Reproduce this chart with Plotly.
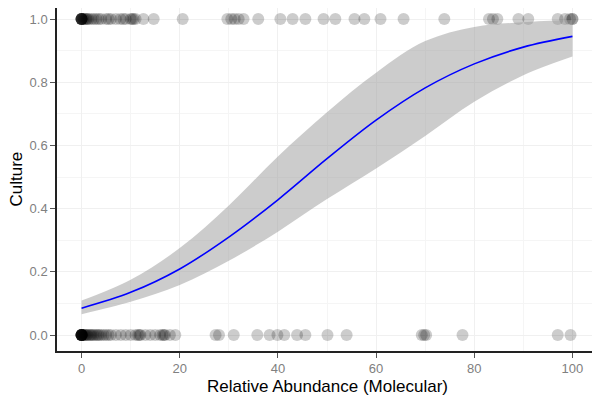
import plotly.graph_objects as go

# Observations with Culture = 1
x_pos = [0, 0, 0, 0, 0, 0, 0, 0, 0.3, 0.5, 0.8, 1, 1.2, 1.5, 2, 2.5, 3, 3.5, 4, 5, 5.5,
         6, 7, 7.9, 8.5, 9, 10, 10.3, 10.6, 11, 12.6, 14.7, 20.6, 29.7, 30.5, 31.2, 32,
         33, 36, 40.5, 43, 45.6, 49.3, 51.7, 55.6, 57.6, 60.9, 65.6, 73.9, 83, 83.8,
         84.7, 89, 91, 97, 98.5, 99.5, 100, 100]
# Observations with Culture = 0
x_neg = [0, 0, 0, 0, 0, 0, 0, 0, 0, 0, 0, 0, 0.2, 0.4, 0.6, 0.8, 1, 1.2, 1.5, 1.8, 2,
         2.3, 2.6, 3, 3.3, 3.6, 4, 4.5, 5, 5.5, 6, 7, 8, 9, 10, 11, 11.5, 11.8, 12, 13,
         14, 15, 16, 16.5, 16.8, 17, 18, 19.1, 27.3, 28, 31, 35.8, 38.3, 39.9, 41.3,
         43.9, 45.6, 50.1, 54, 69.3, 69.8, 70.2, 77.6, 97, 99.6]

# Fitted curve and confidence band
fit_x = [0, 10, 20, 30, 40, 50, 60, 70, 80, 90, 100]
fit_y = [0.085, 0.135, 0.209, 0.31, 0.428, 0.558, 0.68, 0.782, 0.858, 0.911, 0.945]
fit_lo = [0.066, 0.105, 0.158, 0.235, 0.327, 0.43, 0.527, 0.63, 0.738, 0.822, 0.881]
fit_hi = [0.109, 0.175, 0.275, 0.41, 0.565, 0.705, 0.83, 0.93, 0.975, 0.99, 0.997]

x_ticks = [0, 20, 40, 60, 80, 100]
y_ticks = [0, 0.2, 0.4, 0.6, 0.8, 1.0]

fig = go.Figure()

fig.add_trace(go.Scatter(
    x=x_pos + x_neg, y=[1] * len(x_pos) + [0] * len(x_neg), mode="markers",
    marker=dict(size=12, color="rgba(0,0,0,0.2)", line=dict(width=0)),
    hoverinfo="skip", showlegend=False))

fig.add_trace(go.Scatter(x=fit_x, y=fit_lo, mode="lines", line=dict(width=0, shape="spline"),
                         showlegend=False, hoverinfo="skip"))
fig.add_trace(go.Scatter(x=fit_x, y=fit_hi, mode="lines", line=dict(width=0, shape="spline"),
                         fill="tonexty", fillcolor="rgba(153,153,153,0.5)",
                         showlegend=False, hoverinfo="skip"))
fig.add_trace(go.Scatter(x=fit_x, y=fit_y, mode="lines",
                         line=dict(color="#0000ff", width=1.6, shape="spline"),
                         showlegend=False))

axis_common = dict(
    showgrid=True, gridcolor="#f0f0f0", gridwidth=1, zeroline=False,
    showline=True, linecolor="#222222", linewidth=1.5,
    ticks="outside", ticklen=5, tickcolor="#555555", tickwidth=1,
    tickfont=dict(size=13, color="#808080"),
    automargin=False,
)

# The page body adds an 8px offset, so the figure is sized to fit the window.
fig.update_layout(
    width=592, height=392,
    margin=dict(l=49, r=3, t=0, b=49),
    paper_bgcolor="white", plot_bgcolor="white",
    font=dict(family="Liberation Sans, Arial, sans-serif"),
    xaxis=dict(range=[-5, 105], tickvals=x_ticks, **axis_common),
    yaxis=dict(range=[-0.0506, 1.0348], tickvals=y_ticks, tickformat=".1f", **axis_common),
    annotations=[
        dict(text="Relative Abundance (Molecular)", xref="paper", yref="paper",
             x=0.5, y=0, xanchor="center", yanchor="middle", yshift=-35,
             showarrow=False, font=dict(size=17, color="black")),
        dict(text="Culture", xref="paper", yref="paper", x=0, y=0.5,
             xanchor="center", yanchor="middle", xshift=-41, textangle=-90,
             showarrow=False, font=dict(size=17, color="black")),
    ],
)
fig.update_xaxes(minor=dict(tickvals=[10, 30, 50, 70, 90], ticks="", showgrid=True,
                            gridcolor="#f5f5f5", gridwidth=1))
fig.update_yaxes(minor=dict(tickvals=[0.1, 0.3, 0.5, 0.7, 0.9], ticks="", showgrid=True,
                            gridcolor="#f5f5f5", gridwidth=1))

fig.write_html("out.html")
